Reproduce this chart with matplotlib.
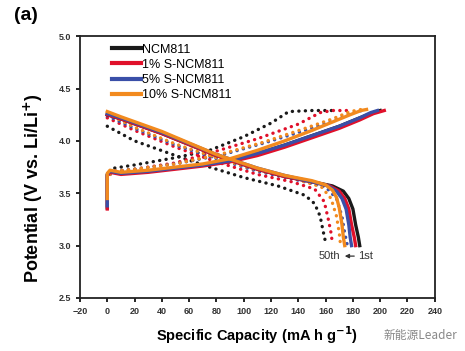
import matplotlib.pyplot as plt

plt.rcParams['font.family'] = ['Liberation Sans', 'DejaVu Sans']

LABELS = ['NCM811', '1% S-NCM811', '5% S-NCM811', '10% S-NCM811']
COLORS = ['#1a1a1a', '#e0102a', '#3a4fa8', '#f28a1e']

# 1st cycle charge (solid)
chg1_x = [
    [0, 0, 2, 10, 30, 50, 70, 90, 110, 130, 150, 170, 185, 195, 200],
    [0, 0, 2, 10, 30, 50, 70, 90, 110, 130, 150, 170, 185, 195, 203],
    [0, 0, 2, 10, 30, 50, 70, 90, 110, 130, 150, 170, 185, 193, 198],
    [0, 0, 2, 10, 30, 50, 70, 90, 110, 130, 150, 165, 178, 186, 190],
]
chg1_v = [
    [3.36, 3.68, 3.71, 3.69, 3.71, 3.74, 3.77, 3.81, 3.88, 3.96, 4.05, 4.14, 4.22, 4.27, 4.29],
    [3.35, 3.67, 3.70, 3.68, 3.70, 3.73, 3.76, 3.80, 3.86, 3.94, 4.03, 4.12, 4.20, 4.26, 4.29],
    [3.38, 3.68, 3.71, 3.69, 3.71, 3.74, 3.77, 3.81, 3.88, 3.96, 4.05, 4.14, 4.22, 4.27, 4.29],
    [3.45, 3.69, 3.72, 3.70, 3.72, 3.75, 3.78, 3.83, 3.91, 4.00, 4.10, 4.18, 4.25, 4.29, 4.30],
]

# 1st cycle discharge (solid)
dis1_x = [
    [0, 10, 40, 80, 110, 130, 150, 165, 173, 177, 180, 182, 184, 185],
    [0, 10, 40, 80, 110, 130, 150, 163, 170, 174, 177, 179, 181, 182],
    [0, 10, 40, 80, 110, 130, 150, 162, 168, 172, 175, 177, 178, 179],
    [0, 10, 40, 80, 110, 130, 150, 160, 165, 168, 170, 172, 173, 174],
]
dis1_v = [
    [4.25, 4.21, 4.07, 3.86, 3.73, 3.66, 3.61, 3.57, 3.52, 3.45, 3.35, 3.20, 3.08, 3.00],
    [4.25, 4.21, 4.07, 3.86, 3.73, 3.66, 3.61, 3.57, 3.52, 3.45, 3.35, 3.20, 3.08, 3.00],
    [4.26, 4.22, 4.08, 3.87, 3.74, 3.67, 3.61, 3.57, 3.52, 3.45, 3.35, 3.20, 3.08, 3.00],
    [4.28, 4.23, 4.09, 3.87, 3.74, 3.67, 3.62, 3.58, 3.53, 3.46, 3.36, 3.20, 3.08, 3.00],
]

# 50th cycle charge (dotted)
chg50_x = [
    [2, 5, 20, 50, 75, 100, 120, 133, 150, 165],
    [2, 5, 20, 50, 82, 110, 140, 156, 165, 178],
    [2, 5, 20, 50, 85, 115, 145, 165, 180, 190],
    [2, 5, 20, 50, 85, 115, 145, 165, 178, 186],
]
chg50_v = [
    [3.70, 3.74, 3.77, 3.84, 3.91, 4.04, 4.17, 4.28, 4.29, 4.29],
    [3.68, 3.71, 3.73, 3.79, 3.91, 4.02, 4.16, 4.27, 4.29, 4.29],
    [3.68, 3.71, 3.73, 3.78, 3.87, 3.98, 4.10, 4.19, 4.27, 4.30],
    [3.68, 3.71, 3.73, 3.78, 3.88, 3.99, 4.12, 4.21, 4.28, 4.30],
]

# 50th cycle discharge (dotted)
dis50_x = [
    [0, 20, 50, 75, 100, 125, 145, 152, 156, 158, 160],
    [0, 20, 50, 80, 110, 135, 152, 159, 162, 164, 165],
    [0, 20, 50, 80, 110, 135, 160, 168, 172, 174, 176],
    [0, 20, 50, 80, 110, 135, 157, 164, 168, 170, 171],
]
dis50_v = [
    [4.14, 4.00, 3.86, 3.75, 3.65, 3.57, 3.48, 3.40, 3.28, 3.15, 3.03],
    [4.22, 4.10, 3.94, 3.80, 3.68, 3.61, 3.54, 3.42, 3.25, 3.12, 3.02],
    [4.24, 4.12, 3.96, 3.83, 3.71, 3.64, 3.56, 3.45, 3.28, 3.12, 3.00],
    [4.26, 4.13, 3.97, 3.84, 3.72, 3.65, 3.56, 3.45, 3.28, 3.12, 3.00],
]

fig = plt.figure(figsize=(4.65, 3.51), dpi=100)
ax = fig.add_axes([0.172, 0.151, 0.763, 0.746])

dots = (0, (0.05, 1.9))
for i in range(4):
    ax.plot(chg50_x[i], chg50_v[i], ls=dots, lw=2.4, color=COLORS[i],
            dash_capstyle='round', zorder=2)
    ax.plot(dis50_x[i], dis50_v[i], ls=dots, lw=2.4, color=COLORS[i],
            dash_capstyle='round', zorder=2)
for i in range(4):
    ax.plot(chg1_x[i], chg1_v[i], lw=2.4, color=COLORS[i], label=LABELS[i], zorder=3)
    ax.plot(dis1_x[i], dis1_v[i], lw=2.4, color=COLORS[i], zorder=3)

ax.set_xlim(-20, 240)
ax.set_ylim(2.5, 5.0)
ax.set_xticks(range(-20, 241, 20))
ax.set_yticks([2.5, 3.0, 3.5, 4.0, 4.5, 5.0])
ax.set_yticklabels(['2.5', '3.0', '3.5', '4.0', '4.5', '5.0'])
ax.tick_params(direction='out', length=3, width=1.2, labelsize=6.5,
               labelcolor='#333333', top=False, right=False)
for lab in ax.get_xticklabels() + ax.get_yticklabels():
    lab.set_fontweight('bold')
for sp in ax.spines.values():
    sp.set_linewidth(1.3)
    sp.set_color('#222222')

ax.set_xlabel('Specific Capacity (mA h g$^{\\mathbf{-1}}$)', fontsize=10.5,
              fontweight='bold', labelpad=6)
ax.set_ylabel('Potential (V vs. Li/Li$^{\\mathbf{+}}$)', fontsize=13,
              fontweight='bold')
ax.yaxis.set_label_coords(-0.1, 0.42)

leg = ax.legend(loc='upper left', bbox_to_anchor=(0.07, 1.0), frameon=False,
                fontsize=9, handlelength=2.3, handletextpad=0.1, labelspacing=0.25,
                borderaxespad=0.2)
for h in leg.get_lines():
    h.set_linewidth(3)

ax.annotate('', xy=(172, 2.9), xytext=(183, 2.9),
            arrowprops=dict(arrowstyle='-|>', color='#333333', lw=0.9,
                            mutation_scale=6))
ax.text(171, 2.9, '50th', ha='right', va='center', fontsize=8, color='#333333')
ax.text(184, 2.9, '1st', ha='left', va='center', fontsize=8, color='#333333')

fig.text(0.03, 0.955, '(a)', fontsize=14, fontweight='bold', ha='left', va='center')
fig.text(0.825, 0.045, '新能源Leader', fontsize=8.5, color='#888888',
         ha='left', va='center', family=['Noto Sans CJK SC', 'DejaVu Sans'])

fig.savefig('out.png', dpi=100)
